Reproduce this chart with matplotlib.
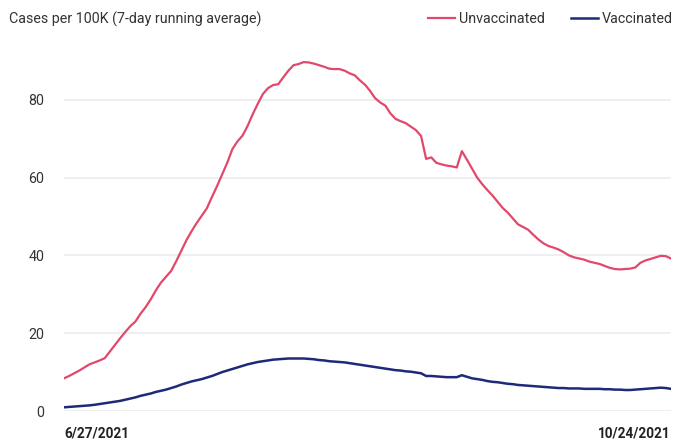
import numpy as np
import pandas as pd
import matplotlib
matplotlib.use("Agg")
import matplotlib.pyplot as plt

plt.rcParams['font.family'] = ['Roboto', 'DejaVu Sans']

# daily dates 6/27/2021 .. 10/24/2021
dates = pd.date_range('2021-06-27', '2021-10-24', freq='D')

unvaccinated = [
    8.4, 9.0, 9.7, 10.4, 11.2, 12.0, 12.5, 13.0, 13.6, 15.3,
    17.0, 18.7, 20.3, 21.8, 23.0, 25.0, 26.7, 28.7, 31.0, 33.0,
    34.5, 36.0, 38.5, 41.2, 43.9, 46.2, 48.3, 50.2, 52.1, 55.0,
    57.8, 60.8, 63.8, 67.3, 69.3, 70.8, 73.3, 76.3, 79.0, 81.5,
    83.0, 83.8, 84.0, 85.8, 87.5, 88.9, 89.2, 89.7, 89.6, 89.3,
    88.9, 88.5, 88.0, 87.9, 87.9, 87.5, 86.8, 86.3, 85.0, 83.9,
    82.3, 80.4, 79.3, 78.5, 76.5, 75.1, 74.5, 74.0, 73.1, 72.2,
    70.7, 64.8, 65.2, 63.8, 63.4, 63.1, 62.9, 62.6, 66.8, 64.6,
    62.3, 60.0, 58.3, 56.8, 55.4, 53.8, 52.2, 51.0, 49.5, 48.0,
    47.3, 46.6, 45.3, 44.1, 43.1, 42.4, 42.0, 41.5, 40.8, 40.0,
    39.5, 39.2, 38.9, 38.4, 38.1, 37.8, 37.3, 36.8, 36.5, 36.4,
    36.5, 36.6, 36.9, 38.1, 38.7, 39.1, 39.5, 39.9, 39.8, 39.2,
]

vaccinated = [
    0.95, 1.05, 1.15, 1.25, 1.35, 1.45, 1.6, 1.8, 2.0, 2.2,
    2.4, 2.6, 2.9, 3.2, 3.5, 3.9, 4.2, 4.5, 4.9, 5.2,
    5.5, 5.9, 6.3, 6.8, 7.2, 7.6, 7.9, 8.2, 8.6, 9.0,
    9.5, 10.0, 10.4, 10.8, 11.2, 11.6, 12.0, 12.3, 12.6, 12.8,
    13.0, 13.2, 13.3, 13.4, 13.5, 13.5, 13.5, 13.5, 13.4, 13.3,
    13.1, 13.0, 12.8, 12.7, 12.6, 12.5, 12.3, 12.1, 11.9, 11.7,
    11.5, 11.3, 11.1, 10.9, 10.7, 10.5, 10.4, 10.2, 10.1, 9.9,
    9.7, 9.0, 9.0, 8.9, 8.8, 8.7, 8.7, 8.7, 9.2, 8.8,
    8.4, 8.2, 8.0, 7.7, 7.5, 7.4, 7.2, 7.0, 6.9, 6.7,
    6.6, 6.5, 6.4, 6.3, 6.2, 6.1, 6.0, 5.9, 5.9, 5.8,
    5.8, 5.8, 5.7, 5.7, 5.7, 5.7, 5.6, 5.6, 5.5, 5.5,
    5.4, 5.4, 5.5, 5.6, 5.7, 5.8, 5.9, 6.0, 5.9, 5.7,
]

y_ticks = [0, 20, 40, 60, 80]
x_labels = ['6/27/2021', '10/24/2021']

fig = plt.figure(figsize=(6.74, 4.41), dpi=100)
ax = fig.add_axes([64/674, 0.068, (671-64)/674, 0.838])

ax.plot(dates, unvaccinated, color='#e2486b', lw=1.6, label='Unvaccinated')
ax.plot(dates, vaccinated, color='#1e2a78', lw=1.8, label='Vaccinated')

ax.set_xlim(dates[0], dates[-1])
ax.set_ylim(0, 95)
ax.set_yticks(y_ticks)
ax.yaxis.grid(True, color='#ececec', lw=1.2)
ax.set_axisbelow(True)
ax.tick_params(axis='y', length=0, pad=14, labelsize=10.3, labelcolor='#333333')

ax.set_xticks([dates[0], dates[-1]])
ax.set_xticklabels(x_labels, fontsize=9.8, color='#222222', fontweight='bold')
ax.tick_params(axis='x', length=0, pad=11)
xt = ax.get_xticklabels()
xt[0].set_ha('left')
xt[1].set_ha('right')

for s in ax.spines.values():
    s.set_visible(False)

fig.text(9/674, 1 - 19/441, 'Cases per 100K (7-day running average)',
         fontsize=10.3, color='#333333', va='center', ha='left')

fig.legend(loc='upper right', bbox_to_anchor=(1.018, 1.003), ncol=2,
           frameon=False, fontsize=10.3, handlelength=1.9, handletextpad=0.3,
           columnspacing=1.8, labelcolor='#333333')

fig.savefig('out.png', dpi=100)
